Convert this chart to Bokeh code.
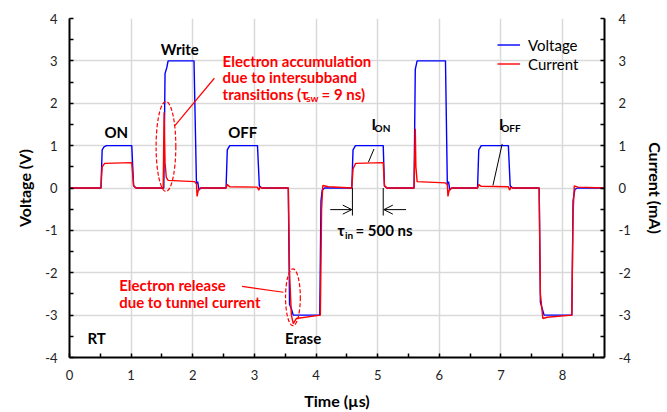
from bokeh.plotting import figure
from bokeh.models import (Range1d, LinearAxis, Legend, LegendItem, Label, Arrow,
                          OpenHead, FixedTicker, ColumnDataSource)
from bokeh.embed import file_html
from bokeh.resources import INLINE

# ---- data ----
t_v = [0, 0.51, 0.53, 0.56, 0.6, 1.01, 1.04, 1.08,
       1.53, 1.55, 1.58, 1.6, 2.02, 2.06, 2.08, 2.1, 2.13,
       2.54, 2.56, 2.6, 3.05, 3.08, 3.12,
       3.55, 3.57, 3.6, 3.63, 4.06, 4.08, 4.1, 4.14,
       4.58, 4.6, 4.64, 5.09, 5.11, 5.15,
       5.59, 5.61, 5.64, 6.1, 6.13, 6.15, 6.17, 6.2,
       6.62, 6.64, 6.68, 7.12, 7.15, 7.19,
       7.62, 7.64, 7.67, 7.7, 8.15, 8.17, 8.2, 8.24, 8.7]
voltage = [0, 0, 0.9, 0.97, 1.0, 1.0, 0.05, 0,
           0, 2.7, 2.85, 3.0, 3.0, 0.1, 0.15, -0.05, 0,
           0, 0.9, 1.0, 1.0, 0.05, 0,
           0, -2.75, -2.85, -3.0, -3.0, -0.3, -0.05, 0,
           0, 0.9, 1.0, 1.0, 0.05, 0,
           0, 2.8, 3.0, 3.0, 0.1, 0.15, -0.05, 0,
           0, 0.9, 1.0, 1.0, 0.05, 0,
           0, -2.7, -2.85, -3.0, -3.0, -0.3, -0.03, 0, 0]

t_i = [0, 0.51, 0.53, 0.57, 1.01, 1.04, 1.08,
       1.52, 1.535, 1.55, 1.57, 1.6, 2.03, 2.06, 2.07, 2.09, 2.12,
       2.54, 2.56, 2.6, 3.05, 3.07, 3.09, 3.12,
       3.55, 3.57, 3.6, 3.63, 3.68, 4.07, 4.09, 4.11, 4.2,
       4.58, 4.6, 4.64, 5.09, 5.11, 5.15,
       5.59, 5.61, 5.62, 5.64, 6.1, 6.13, 6.14, 6.16, 6.2,
       6.62, 6.64, 6.68, 7.12, 7.14, 7.16, 7.2,
       7.62, 7.64, 7.68, 7.75, 8.15, 8.17, 8.19, 8.25, 8.7]
current = [0, 0, 0.5, 0.58, 0.6, 0.05, 0,
           0, 1.79, 0.6, 0.25, 0.18, 0.15, 0.1, -0.2, -0.05, 0,
           0, 0.08, 0.03, 0.02, -0.05, 0.02, 0,
           0, -2.0, -3.0, -3.2, -3.08, -3.0, -0.5, 0.06, 0.03,
           0, 0.45, 0.58, 0.6, 0.05, 0,
           0, 1.4, 0.5, 0.15, 0.12, 0.08, -0.2, -0.05, 0,
           0, 0.08, 0.04, 0.03, -0.05, 0.02, 0,
           0, -2.5, -3.08, -3.05, -3.0, -0.6, 0.05, 0.02, 0]

x_ticks = [0, 1, 2, 3, 4, 5, 6, 7, 8]
y_ticks = [-4, -3, -2, -1, 0, 1, 2, 3, 4]
y_tick_labels = ["-4", "-3", "-2", "-1", "0", "1", "2", "3", "4"]

FONT = "Lato"
RED = "#ff0000"
BLUE = "#0000ff"

p = figure(width=667, height=412, x_range=Range1d(0, 8.68), y_range=Range1d(-4, 4),
           output_backend="svg", toolbar_location=None,
           min_border_left=69, min_border_right=60, min_border_top=18, min_border_bottom=55)
p.outline_line_color = None
p.extra_y_ranges = {"cur": Range1d(-4, 4)}

def style_axis(ax, label):
    ax.axis_label = label
    ax.axis_label_text_font = FONT
    ax.axis_label_text_font_style = "bold"
    ax.axis_label_text_font_size = "16px"
    ax.axis_label_text_color = "black"
    ax.major_label_text_font = FONT
    ax.major_label_text_font_size = "13px"
    ax.major_label_text_color = "#222222"
    ax.axis_line_color = "black"
    ax.axis_line_width = 2
    ax.major_tick_line_color = "black"
    ax.minor_tick_line_color = "black"
    ax.major_tick_in = 4
    ax.major_tick_out = 0
    ax.minor_tick_in = 4
    ax.minor_tick_out = 0
    ax.major_tick_line_width = 1.5
    ax.minor_tick_line_width = 1.5

yoverrides = {v: s for v, s in zip(y_ticks, y_tick_labels)}

p.xaxis.ticker = FixedTicker(ticks=x_ticks, minor_ticks=[v + 0.5 for v in x_ticks])
p.yaxis.ticker = FixedTicker(ticks=y_ticks, minor_ticks=[v + 0.5 for v in y_ticks[:-1]])
style_axis(p.xaxis[0], "Time (µs)")
style_axis(p.yaxis[0], "Voltage (V)")
p.yaxis.major_label_overrides = yoverrides
p.xaxis.major_label_standoff = 12
p.xaxis.axis_label_standoff = 8
p.yaxis.major_label_standoff = 12
p.yaxis.axis_label_standoff = 8

rax = LinearAxis(y_range_name="cur",
                 ticker=FixedTicker(ticks=y_ticks, minor_ticks=[v + 0.5 for v in y_ticks[:-1]]))
style_axis(rax, "Current (mA)")
rax.major_label_overrides = yoverrides
rax.major_label_standoff = 14
rax.axis_label_standoff = 12
p.add_layout(rax, "right")

p.xgrid.ticker = FixedTicker(ticks=x_ticks)
p.ygrid.ticker = FixedTicker(ticks=y_ticks)
p.grid.grid_line_color = "#d9d9d9"
p.grid.grid_line_width = 1.5

vsrc = ColumnDataSource(dict(t=t_v, v=voltage))
isrc = ColumnDataSource(dict(t=t_i, i=current))
rv = p.line("t", "v", source=vsrc, line_color=BLUE, line_width=1.4)
ri = p.line("t", "i", source=isrc, line_color=RED, line_width=1.4, y_range_name="cur")

legend = Legend(items=[LegendItem(label="Voltage", renderers=[rv]),
                       LegendItem(label="Current", renderers=[ri])],
                location=(428, 284))
legend.label_text_font = FONT
legend.label_text_font_size = "15px"
legend.label_text_color = "black"
legend.border_line_alpha = 0
legend.background_fill_alpha = 0
legend.padding = 0
legend.spacing = 0
legend.margin = 0
legend.glyph_width = 23
legend.glyph_height = 19
legend.label_height = 19
legend.label_standoff = 8
p.add_layout(legend)

def lab(x, y, text, size="15px", color="black", align="center", bold=True):
    p.add_layout(Label(x=x, y=y, text=text, text_font=FONT, text_font_size=size,
                       text_color=color, text_align=align, text_baseline="middle",
                       text_font_style="bold" if bold else "normal"))

lab(0.76, 1.31, "ON")
lab(1.79, 3.29, "Write")
lab(2.81, 1.31, "OFF")
lab(0.44, -3.53, "RT")
lab(3.79, -3.53, "Erase")

# I_ON / I_OFF
lab(4.90, 1.51, "I", align="left")
lab(4.95, 1.41, "ON", size="10px", align="left")
lab(6.97, 1.51, "I", align="left")
lab(7.005, 1.41, "OFF", size="10px", align="left")

# tau_in
lab(4.35, -1.0, "τ", align="left")
lab(4.47, -1.1, "in", size="10px", align="left")
lab(4.64, -1.0, "= 500 ns", align="left")

# red annotations
lab(2.484, 2.99, "Electron accumulation", color=RED, align="left")
lab(2.484, 2.61, "due to intersubband", color=RED, align="left")
lab(2.484, 2.229, "transitions (τ", color=RED, align="left")
lab(3.84, 2.13, "sw", size="10px", color=RED, align="left")
lab(4.09, 2.229, "= 9 ns)", color=RED, align="left")
lab(0.806, -2.30, "Electron release", color=RED, align="left")
lab(0.806, -2.69, "due to tunnel current", color=RED, align="left")

p.ellipse(x=[1.565], y=[0.98], width=[0.32], height=[2.12], fill_alpha=0,
          line_color=RED, line_dash="4 2", line_width=1.2)
p.ellipse(x=[3.625], y=[-2.58], width=[0.24], height=[1.34], fill_alpha=0,
          line_color=RED, line_dash="4 2", line_width=1.2)
p.segment(x0=[1.71, 2.80], y0=[1.47, -2.32], x1=[2.35, 3.47], y1=[2.59, -2.46],
          line_color=RED, line_width=1.2)

# leader lines for I_ON / I_OFF
p.segment(x0=[4.85, 6.87], y0=[0.61, 0.06], x1=[4.94, 7.02], y1=[0.92, 1.04],
          line_color="black", line_width=1)
# tau_in markers
p.segment(x0=[4.59, 5.09], y0=[0.0, 0.0], x1=[4.59, 5.09], y1=[-0.65, -0.65],
          line_color="black", line_width=1)
p.add_layout(Arrow(x_start=4.23, y_start=-0.51, x_end=4.58, y_end=-0.51,
                   end=OpenHead(size=9, line_width=1), line_width=1))
p.add_layout(Arrow(x_start=5.46, y_start=-0.51, x_end=5.10, y_end=-0.51,
                   end=OpenHead(size=9, line_width=1), line_width=1))

open("out.html", "w").write(file_html(p, INLINE))
